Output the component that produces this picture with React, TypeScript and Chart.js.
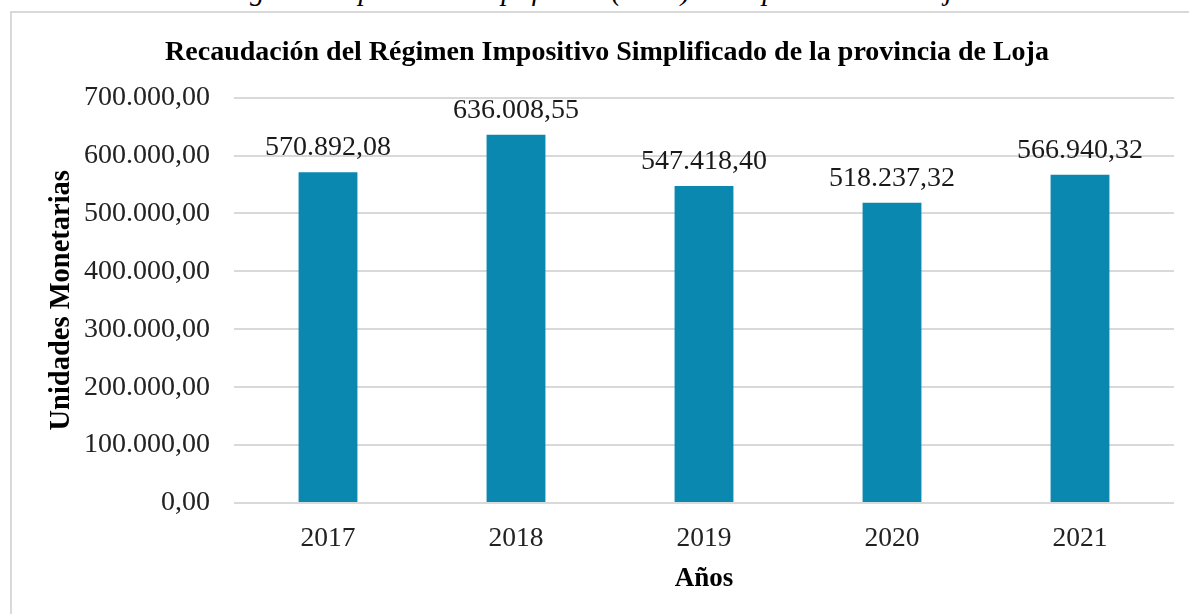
import { useEffect, useRef } from "react";
import { Chart, registerables } from "chart.js";

Chart.register(...registerables);

const years: string[] = ["2017", "2018", "2019", "2020", "2021"];
const recaudacion: number[] = [570892.08, 636008.55, 547418.4, 518237.32, 566940.32];
const yTickValues: number[] = [0, 100000, 200000, 300000, 400000, 500000, 600000, 700000];
const chartTitle = "Recaudación del Régimen Impositivo Simplificado de la provincia de Loja";
const yAxisTitle = "Unidades Monetarias";
const xAxisTitle = "Años";
const captionText = "Recaudación del Régimen Impositivo Simplificado (RISE) de la provincia de Loja";

const FAMILY = '"Liberation Serif", "Times New Roman", Times, serif';

function fmt(v: number): string {
  const [i, d] = v.toFixed(2).split(".");
  return i.replace(/\B(?=(\d{3})+(?!\d))/g, ".") + "," + d;
}

const barLabels = {
  id: "barLabels",
  afterDatasetsDraw(chart: any) {
    const ctx = chart.ctx;
    const meta = chart.getDatasetMeta(0);
    ctx.save();
    ctx.font = `28px ${FAMILY}`;
    ctx.fillStyle = "#1a1a1a";
    ctx.textAlign = "center";
    ctx.textBaseline = "alphabetic";
    meta.data.forEach((bar: any, i: number) => {
      ctx.fillText(fmt(recaudacion[i]), bar.x, bar.y - 17);
    });
    ctx.restore();
  },
};

export default function App() {
  const ref = useRef<HTMLCanvasElement>(null);

  useEffect(() => {
    const chart = new Chart(ref.current as HTMLCanvasElement, {
      type: "bar",
      data: {
        labels: years,
        datasets: [
          {
            data: recaudacion,
            backgroundColor: "#0A88B0",
            borderWidth: 0,
            barPercentage: 0.313,
            categoryPercentage: 1,
          },
        ],
      },
      options: {
        responsive: false,
        animation: false,
        devicePixelRatio: 1,
        layout: { padding: { left: 28, right: 28, top: 0, bottom: 0 } },
        plugins: {
          legend: { display: false },
          tooltip: { enabled: false },
          title: {
            display: true,
            text: chartTitle,
            color: "#000",
            font: { family: FAMILY, size: 28, weight: "bold" },
            padding: { top: 23, bottom: 28 },
          },
        },
        scales: {
          x: {
            grid: { display: false },
            border: { display: false },
            ticks: { color: "#222", font: { family: FAMILY, size: 27.5 }, padding: 11 },
            title: {
              display: true,
              text: xAxisTitle,
              color: "#000",
              font: { family: FAMILY, size: 27, weight: "bold" },
              padding: { top: 0, bottom: 19 },
            },
            afterFit: (s: any) => {
              s.height = 111;
            },
          },
          y: {
            min: 0,
            max: 700000,
            afterBuildTicks: (s: any) => {
              s.ticks = yTickValues.map((v) => ({ value: v }));
            },
            ticks: {
              callback: (v: any) => fmt(Number(v)),
              color: "#222",
              font: { family: FAMILY, size: 28 },
              padding: 24,
            },
            grid: { color: "#D9D9D9", lineWidth: 2, drawTicks: false },
            border: { display: false },
            title: {
              display: true,
              text: yAxisTitle,
              color: "#000",
              font: { family: FAMILY, size: 28.5, weight: "bold" },
              padding: { top: 5, bottom: 0 },
            },
            afterFit: (s: any) => {
              s.width = 194;
            },
          },
        },
      },
      plugins: [barLabels],
    } as any);
    return () => chart.destroy();
  }, []);

  return (
    <div
      style={{
        position: "fixed",
        left: 0,
        top: 0,
        width: 1189,
        height: 614,
        overflow: "hidden",
        background: "#fff",
      }}
    >
      <div
        style={{
          position: "absolute",
          left: 18,
          top: -24,
          fontFamily: FAMILY,
          fontStyle: "italic",
          fontSize: 29,
          lineHeight: "29px",
          whiteSpace: "nowrap",
          color: "#000",
        }}
      >
        {captionText}
      </div>
      <div
        style={{
          position: "absolute",
          left: 10,
          top: 11,
          width: 1300,
          height: 700,
          borderTop: "2px solid #D9D9D9",
          borderLeft: "2px solid #D9D9D9",
        }}
      />
      <canvas
        ref={ref}
        width={1190}
        height={601}
        style={{ position: "absolute", left: 12, top: 13, width: 1190, height: 601 }}
      />
    </div>
  );
}
